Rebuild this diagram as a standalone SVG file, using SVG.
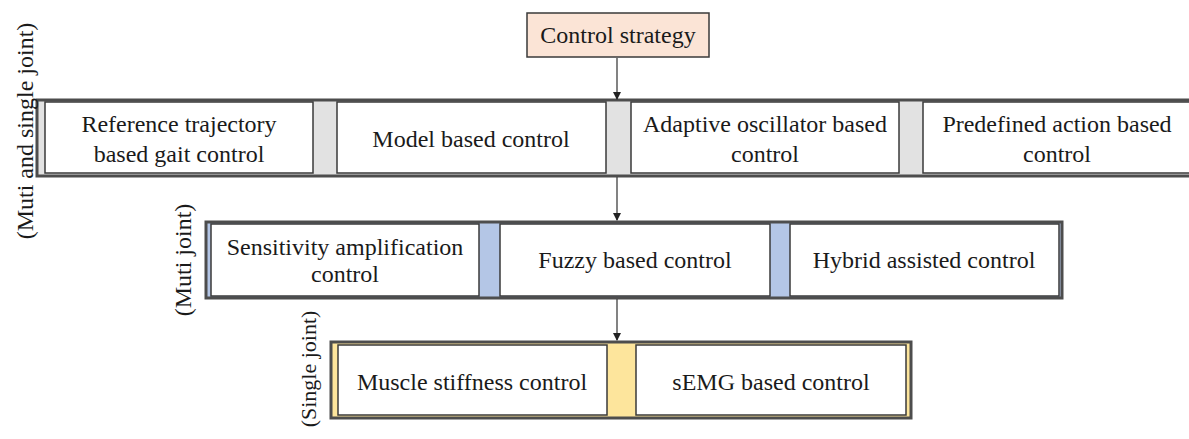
<svg xmlns="http://www.w3.org/2000/svg" width="1189" height="439" viewBox="0 0 1189 439">
<defs>
<style>
text{font-family:"Liberation Serif","Times New Roman",serif;font-size:24px;fill:#1a1a1a;text-anchor:middle}
.box{fill:#fff;stroke:#3a3a3a;stroke-width:1.5}
.outer{stroke:#4d4d4d;stroke-width:3}
.link{stroke:#404040;stroke-width:1.3;fill:none}
</style>
<marker id="ah" markerWidth="8" markerHeight="8" refX="7" refY="4" orient="auto" markerUnits="userSpaceOnUse">
<path d="M0,0 L8,4 L0,8 Z" fill="#222"/>
</marker>
</defs>
<rect width="1189" height="439" fill="#fff"/>

<g id="root">
<rect x="527" y="13" width="182" height="44" fill="#fbe4d6" stroke="#3a3a3a" stroke-width="1.5"/>
<text x="618" y="43">Control strategy</text>
</g>

<g id="group1">
<rect class="outer" x="37" y="100" width="1160" height="76" fill="#e2e2e2"/>
<text transform="translate(33,131) rotate(-90)">(Muti and single joint)</text>
</g>
<g id="n1"><rect class="box" x="45" y="102" width="268" height="71"/><text x="179" y="132">Reference trajectory</text><text x="179" y="162">based gait control</text></g>
<g id="n2"><rect class="box" x="337" y="102" width="269" height="71"/><text x="471" y="147">Model based control</text></g>
<g id="n3"><rect class="box" x="631" y="102" width="268" height="71"/><text x="765" y="132">Adaptive oscillator based</text><text x="765" y="162">control</text></g>
<g id="n4"><rect class="box" x="923" y="102" width="270" height="71"/><text x="1057" y="132">Predefined action based</text><text x="1057" y="162">control</text></g>

<g id="group2">
<rect class="outer" x="206" y="222" width="856" height="76" fill="#b4c6e6"/>
<text transform="translate(191,260) rotate(-90)">(Muti joint)</text>
</g>
<g id="n5"><rect class="box" x="211" y="224" width="268" height="72"/><text x="345" y="255">Sensitivity amplification</text><text x="345" y="282">control</text></g>
<g id="n6"><rect class="box" x="500" y="224" width="270" height="72"/><text x="635" y="268">Fuzzy based control</text></g>
<g id="n7"><rect class="box" x="790" y="224" width="269" height="72"/><text x="924" y="268">Hybrid assisted control</text></g>

<g id="group3">
<rect class="outer" x="331" y="342" width="580" height="76" fill="#fde59c"/>
<text transform="translate(316,369) rotate(-90)" style="font-size:22px">(Single joint)</text>
</g>
<g id="n8"><rect class="box" x="338" y="345" width="269" height="70"/><text x="472" y="390">Muscle stiffness control</text></g>
<g id="n9"><rect class="box" x="636" y="345" width="270" height="70"/><text x="771" y="390">sEMG based control</text></g>

<g id="connectors">
<line class="link" x1="617" y1="58" x2="617" y2="99" marker-end="url(#ah)"/>
<line class="link" x1="617" y1="177" x2="617" y2="220" marker-end="url(#ah)"/>
<line class="link" x1="617" y1="299" x2="617" y2="340" marker-end="url(#ah)"/>
</g>
</svg>
